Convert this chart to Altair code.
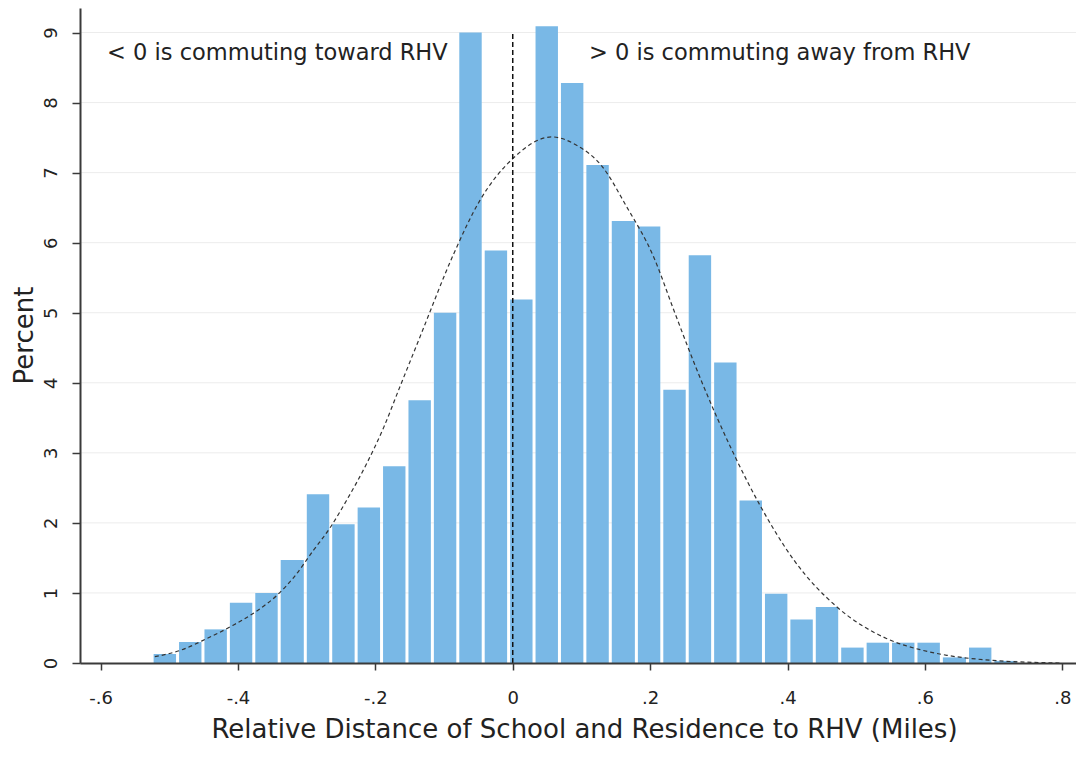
import altair as alt
import pandas as pd

# ---- data ----
bin_left = [-0.525, -0.488, -0.451, -0.414, -0.377, -0.340, -0.302, -0.265,
            -0.228, -0.191, -0.154, -0.117, -0.080, -0.043, -0.006, 0.031,
            0.068, 0.105, 0.142, 0.180, 0.217, 0.254, 0.291, 0.328,
            0.365, 0.402, 0.439, 0.476, 0.513, 0.550, 0.587, 0.624,
            0.662, 0.699]
bin_right = [-0.488, -0.451, -0.414, -0.377, -0.340, -0.302, -0.265, -0.228,
             -0.191, -0.154, -0.117, -0.080, -0.043, -0.006, 0.031, 0.068,
             0.105, 0.142, 0.180, 0.217, 0.254, 0.291, 0.328, 0.365,
             0.402, 0.439, 0.476, 0.513, 0.550, 0.587, 0.624, 0.662,
             0.699, 0.736]
percent = [0.13, 0.30, 0.48, 0.86, 1.00, 1.47, 2.41, 1.98,
           2.22, 2.81, 3.75, 5.00, 9.00, 5.89, 5.19, 9.09,
           8.28, 7.11, 6.31, 6.23, 3.90, 5.82, 4.29, 2.32,
           0.99, 0.62, 0.80, 0.22, 0.29, 0.29, 0.29, 0.08,
           0.22, 0.03]

# normal-density overlay, points
curve_x = [-0.521, -0.484, -0.445, -0.407, -0.373, -0.344, -0.319, -0.290,
           -0.266, -0.242, -0.213, -0.188, -0.164, -0.134, -0.086, -0.048,
           0.000, 0.057, 0.093, 0.130, 0.166, 0.205, 0.234, 0.253,
           0.277, 0.321, 0.360, 0.410, 0.472, 0.544, 0.593, 0.632,
           0.695, 0.797]
curve_y = [0.09, 0.18, 0.35, 0.54, 0.74, 0.96, 1.22, 1.61,
           1.93, 2.32, 2.84, 3.36, 3.95, 4.68, 5.84, 6.60,
           7.20, 7.51, 7.39, 7.09, 6.51, 5.80, 5.05, 4.56,
           3.97, 3.00, 2.25, 1.46, 0.80, 0.35, 0.19, 0.11,
           0.04, 0.00]

x_ticks = [-0.6, -0.4, -0.2, 0, 0.2, 0.4, 0.6, 0.8]
y_ticks = [0, 1, 2, 3, 4, 5, 6, 7, 8, 9]

note_x = [-0.5906, 0.111]
note_y = [8.61, 8.61]
note_text = ["< 0 is commuting toward RHV", "> 0 is commuting away from RHV"]

rule_x = [0]
rule_y0 = [0]
rule_y1 = [9]

# ---- tables ----
hist = pd.DataFrame({"x0": bin_left, "x1": bin_right, "pct": percent,
                     "base": [0] * len(percent)})
curve = pd.DataFrame({"x": curve_x, "y": curve_y})
grid = pd.DataFrame({"y": y_ticks[1:]})
notes = pd.DataFrame({"x": note_x, "y": note_y, "t": note_text})
zero_rule = pd.DataFrame({"x": rule_x, "y0": rule_y0, "y1": rule_y1})

FONT = "DejaVu Sans"
TXT = "#222222"
AX = "#3a3a3a"

xscale = alt.Scale(domain=[-0.63, 0.82], nice=False, zero=False)
yscale = alt.Scale(domain=[0, 9.35], nice=False, zero=False)

xaxis = alt.Axis(
    values=x_ticks,
    labelExpr="datum.value == 0 ? '0' : (datum.value < 0 ? '-' : '') + replace(format(abs(datum.value), '.1f'), '0.', '.')",
    title="Relative Distance of School and Residence to RHV (Miles)",
    grid=False,
    domainColor=AX, domainWidth=2,
    tickColor=AX, tickWidth=1.5, tickSize=7,
    labelFont=FONT, labelFontSize=18, labelColor=TXT,
    labelBaseline="alphabetic", labelPadding=33,
    titleFont=FONT, titleFontSize=26, titleFontWeight="normal", titleColor=TXT,
    titleBaseline="alphabetic", titleAnchor="start", titleAlign="center",
    titleX=504, titleY=74,
    zindex=1,
)
yaxis = alt.Axis(
    values=y_ticks,
    format="d",
    title="Percent",
    grid=False,
    domainColor=AX, domainWidth=2,
    tickColor=AX, tickWidth=1.5, tickSize=8,
    labelFont=FONT, labelFontSize=18, labelColor=TXT,
    labelAngle=270, labelAlign="center", labelBaseline="alphabetic",
    labelPadding=16,
    titleFont=FONT, titleFontSize=26, titleFontWeight="normal", titleColor=TXT,
    titleAngle=270, titleAlign="center", titleBaseline="alphabetic",
    titleX=-48, titleY=327,
    zindex=1,
)

gridlines = alt.Chart(grid).mark_rule(color="#ececec", strokeWidth=1).encode(
    y=alt.Y("y:Q", scale=yscale, axis=yaxis),
)

bars = alt.Chart(hist).mark_bar(color="#79b8e6", xOffset=1.5, x2Offset=-1.5).encode(
    x=alt.X("x0:Q", scale=xscale, axis=xaxis),
    x2="x1:Q",
    y=alt.Y("pct:Q", scale=yscale, axis=yaxis),
    y2="base:Q",
)

normal_curve = alt.Chart(curve).mark_line(
    color="#333333", strokeWidth=1.2, strokeDash=[4, 3], interpolate="monotone"
).encode(
    x=alt.X("x:Q", scale=xscale, axis=xaxis),
    y=alt.Y("y:Q", scale=yscale, axis=yaxis),
)

vline = alt.Chart(zero_rule).mark_rule(color="#111111", strokeWidth=1.5, strokeDash=[5, 3]).encode(
    x=alt.X("x:Q", scale=xscale, axis=xaxis),
    y=alt.Y("y0:Q", scale=yscale, axis=yaxis),
    y2="y1:Q",
)

texts = alt.Chart(notes).mark_text(
    font=FONT, fontSize=22.5, color=TXT, align="left", baseline="alphabetic"
).encode(
    x=alt.X("x:Q", scale=xscale, axis=xaxis),
    y=alt.Y("y:Q", scale=yscale, axis=yaxis),
    text="t:N",
)

chart = alt.layer(gridlines, bars, normal_curve, vline, texts).properties(
    width=996,
    height=655,
    autosize=alt.AutoSizeParams(type="none"),
    padding={"left": 72, "top": 0, "right": 0, "bottom": 80},
    background="white",
).configure_view(stroke=None)

chart.save("out.html", embed_options={"renderer": "svg", "actions": False})
